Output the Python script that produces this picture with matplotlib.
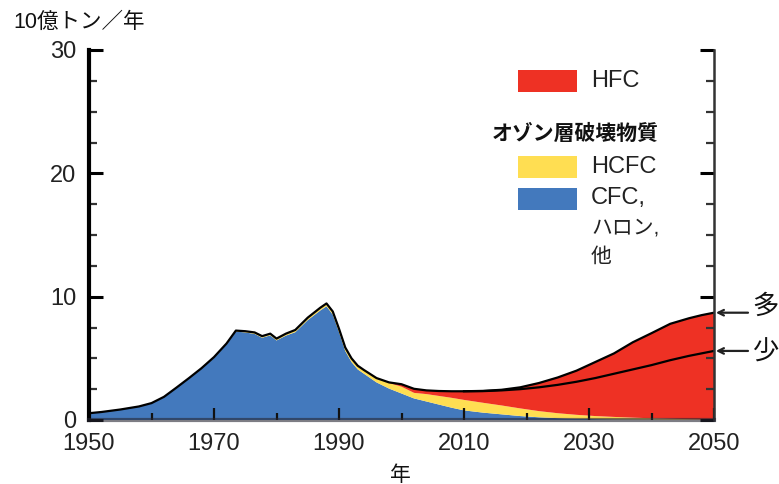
import matplotlib
matplotlib.use("Agg")
import matplotlib.pyplot as plt
import numpy as np
from matplotlib.patches import Rectangle
from matplotlib.ticker import MultipleLocator

plt.rcParams['font.family'] = ['Liberation Sans', 'Noto Sans CJK JP']

# ---------------- data (10億トン/年, CO2換算) ----------------
years = [1950, 1952, 1955, 1958, 1960, 1962, 1964, 1966, 1968, 1970, 1972, 1973.5,
         1975, 1976.5, 1977.7, 1979, 1980, 1981.5, 1983, 1985, 1987, 1988,
         1989, 1990, 1991, 1992, 1993, 1994, 1996, 1998, 2000, 2002, 2004,
         2006, 2008, 2010, 2013, 2016, 2019, 2022, 2025, 2028, 2031, 2034,
         2037, 2040, 2043, 2046, 2048, 2050]

cfc = [0.55, 0.65, 0.85, 1.1, 1.35, 1.85, 2.6, 3.36, 4.15, 5.04, 6.13, 7.17,
       7.1, 6.98, 6.67, 6.86, 6.45, 6.84, 7.12, 8.1, 8.88, 9.22,
       8.55, 7.13, 5.6, 4.7, 4.1, 3.75, 3.05, 2.55, 2.15, 1.75, 1.5,
       1.25, 1.0, 0.78, 0.6, 0.46, 0.32, 0.22, 0.15, 0.1, 0.07, 0.05,
       0.04, 0.03, 0.02, 0.02, 0.01, 0.01]

hcfc = [0.0, 0.0, 0.0, 0.0, 0.02, 0.03, 0.03, 0.04, 0.05, 0.06, 0.07, 0.08,
        0.1, 0.12, 0.13, 0.14, 0.15, 0.16, 0.18, 0.2, 0.22, 0.23,
        0.25, 0.27, 0.28, 0.3, 0.3, 0.3, 0.35, 0.45, 0.55, 0.45, 0.6,
        0.7, 0.8, 0.85, 0.8, 0.72, 0.62, 0.5, 0.4, 0.32, 0.25, 0.2,
        0.15, 0.11, 0.08, 0.05, 0.04, 0.03]

hfc_high = [0.0, 0.0, 0.0, 0.0, 0.0, 0.0, 0.0, 0.0, 0.0, 0.0, 0.0, 0.0,
            0.0, 0.0, 0.0, 0.0, 0.0, 0.0, 0.0, 0.0, 0.0, 0.0,
            0.0, 0.0, 0.0, 0.0, 0.0, 0.0, 0.0, 0.05, 0.2, 0.33, 0.3,
            0.4, 0.53, 0.7, 0.96, 1.27, 1.71, 2.28, 2.9, 3.58, 4.38, 5.15,
            6.11, 6.9, 7.7, 8.18, 8.45, 8.66]

low_years = [2010, 2013, 2016, 2019, 2022, 2025, 2028, 2031, 2034, 2037,
             2040, 2043, 2046, 2048, 2050]
hfc_low = [0.7, 0.94, 1.22, 1.56, 1.93, 2.3, 2.68, 3.08, 3.5, 3.91,
           4.31, 4.75, 5.13, 5.35, 5.56]

x_ticks = [1950, 1970, 1990, 2010, 2030, 2050]
y_ticks = [0, 10, 20, 30]

# ---------------- colours ----------------
C_RED = '#EE3124'
C_YEL = '#FFDE52'
C_BLU = '#4379BD'

W, H = 779, 484
fig = plt.figure(figsize=(W / 100, H / 100), dpi=100)
L, R, B, T = 89, 714, 420, 50
ax = fig.add_axes([L / W, 1 - B / H, (R - L) / W, (B - T) / H])

yr = np.array(years, float)
c = np.array(cfc)
h = np.array(hcfc)
f = np.array(hfc_high)
ax.stackplot(yr, c, h, f, colors=[C_BLU, C_YEL, C_RED], linewidth=0, zorder=1)
total = c + h + f
ax.plot(yr, total, color='black', lw=1.6, zorder=3, solid_joinstyle='round')

ly = np.array(low_years, float)
idx = [years.index(v) for v in low_years]
low_total = c[idx] + h[idx] + np.array(hfc_low)
ax.plot(ly, low_total, color='black', lw=1.6, zorder=3)

ax.set_xlim(1950, 2050)
ax.set_ylim(0, 30)
ax.set_xticks(x_ticks)
ax.set_xticks([1960, 1980, 2000, 2020, 2040], minor=True)
ax.set_yticks(y_ticks)
ax.yaxis.set_minor_locator(MultipleLocator(2.5))
ax.set_xticklabels([str(v) for v in x_ticks])

ax.spines['top'].set_visible(False)
ax.spines['left'].set_linewidth(3.0)
ax.spines['left'].set_color('black')
ax.spines['right'].set_linewidth(1.8)
ax.spines['right'].set_color('#333333')
ax.spines['bottom'].set_linewidth(3.0)
ax.spines['bottom'].set_color((0.15, 0.15, 0.2, 0.6))
for s in ax.spines.values():
    s.set_zorder(4)

ax.tick_params(axis='y', which='major', direction='in', length=10, width=2.2,
               color='black', left=True, right=True, labelsize=17,
               labelcolor='#222222', pad=9)
ax.tick_params(axis='y', which='minor', direction='in', length=6, width=1.6,
               color='#333333', left=True, right=True)
ax.tick_params(axis='x', which='major', direction='in', length=9, width=1.6,
               color='#111111', labelsize=17, labelcolor='#222222', pad=9)
ax.tick_params(axis='x', which='minor', direction='in', length=5, width=1.6,
               color='#111111')
ax.set_axisbelow(False)

# ---------------- texts ----------------
def fx(px):
    return px / W

def fy(py):
    return 1 - py / H

fig.text(fx(13), fy(22), '10億トン／年', fontsize=15.5, ha='left', va='center',
         color='#111111')
fig.text(fx(400), fy(475), '年', fontsize=15, ha='center', va='center',
         color='#111111')

# legend
def patch(y0, col):
    fig.add_artist(Rectangle((fx(518), fy(y0 + 22)), 59 / W, 22 / H,
                             transform=fig.transFigure, facecolor=col,
                             edgecolor='none'))

patch(70, C_RED)
fig.text(fx(591), fy(81), 'HFC', fontsize=17, ha='left', va='center', color='#222222')
fig.text(fx(492), fy(134), 'オゾン層破壊物質', fontsize=15, ha='left', va='center',
         color='#111111', fontweight='bold')
patch(156, C_YEL)
fig.text(fx(591), fy(167), 'HCFC', fontsize=17, ha='left', va='center', color='#222222')
patch(188, C_BLU)
fig.text(fx(591), fy(198), 'CFC,', fontsize=17, ha='left', va='center', color='#222222')
fig.text(fx(591), fy(228), 'ハロン,', fontsize=15, ha='left', va='center', color='#222222')
fig.text(fx(591), fy(257), '他', fontsize=15, ha='left', va='center', color='#222222')

# scenario arrows
for val, lab, ty in [(total[-1], '多', 307), (low_total[-1], '少', 352)]:
    ax.annotate('', xy=(2050.3, val), xycoords='data',
                xytext=(fx(748), ax.transData.transform((2050, val))[1] / H),
                textcoords='figure fraction',
                arrowprops=dict(arrowstyle='->', color='#222222', lw=1.6,
                                mutation_scale=10, shrinkA=0, shrinkB=0),
                annotation_clip=False)
    fig.text(fx(765), fy(ty), lab, fontsize=19, ha='center', va='center',
             color='#111111')

fig.savefig('out.png', dpi=100)
